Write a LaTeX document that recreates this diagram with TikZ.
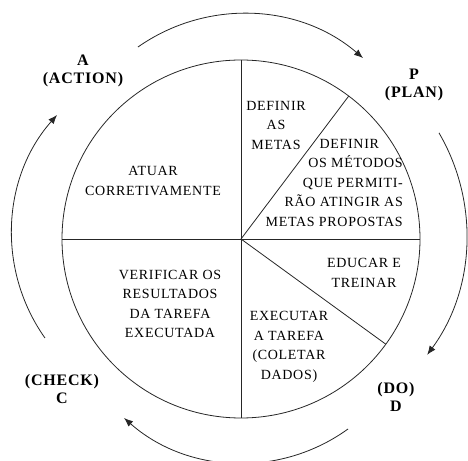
\documentclass[tikz,border=0pt]{standalone}
\usepackage{fontspec}
\setmainfont{Liberation Serif}[LetterSpace=5]
\usepackage{tikz}
\usetikzlibrary{calc,arrows.meta}
\tikzstyle{sectortext}=[font=\fontsize{14}{19.5}\selectfont,align=center,inner sep=0pt]
\tikzstyle{phasetext}=[font=\fontsize{16}{18}\selectfont\bfseries,align=center,inner sep=0pt]
\tikzstyle{wheel}=[draw=black!85,line width=0.8pt]
\tikzstyle{cyclearrow}=[draw=black!85,line width=0.8pt,-{Latex[length=9pt,width=7pt]}]
\newcommand\wheelradius{179}

\begin{document}
\begin{tikzpicture}[x=1pt,y=1pt]
	\useasboundingbox (0,0) rectangle (468,460);
	\clip (0,0) rectangle (468,460);
	% the wheel
	\coordinate (centre) at (241,221);
	\coordinate (top) at ($(centre)+(90:\wheelradius)$);
	\coordinate (bottom) at ($(centre)+(-90:\wheelradius)$);
	\coordinate (left) at ($(centre)+(180:\wheelradius)$);
	\coordinate (right) at ($(centre)+(0:\wheelradius)$);
	\coordinate (plan cut) at ($(centre)+(53:\wheelradius)$);
	\coordinate (do cut) at ($(centre)+(-36:\wheelradius)$);
	\draw [wheel] (centre) circle [radius=\wheelradius];
	\draw [wheel] (top) -- (bottom);
	\draw [wheel] (left) -- (right);
	\draw [wheel] (centre) -- (plan cut);
	\draw [wheel] (centre) -- (do cut);
	% sector texts
	\node [sectortext] (act) at (153,279) {ATUAR\\CORRETIVAMENTE};
	\node [sectortext] (goals) at (276,335) {DEFINIR\\AS\\METAS};
	\node [sectortext,align=right,anchor=east] (methods) at (403,277.5) {
		DEFINIR\hspace*{1.7em}\\OS MÉTODOS\\QUE PERMITI-\\RÃO ATINGIR AS\\METAS PROPOSTAS
	};
	\node [sectortext] (train) at (364,187) {EDUCAR E\\TREINAR};
	\node [sectortext] (verify) at (170,156) {VERIFICAR OS\\RESULTADOS\\DA TAREFA\\EXECUTADA};
	\node [sectortext] (execute) at (289,113) {EXECUTAR\\A TAREFA\\(COLETAR\\DADOS)};
	% phase labels
	\node [phasetext] (action) at (83,389) {A\\(ACTION)};
	\node [phasetext] (plan) at (414,375) {P\\(PLAN)};
	\node [phasetext] (do) at (396,63) {(DO)\\D};
	\node [phasetext] (check) at (62,71) {(CHECK)\\C};
	% cycle arrows
	\coordinate (top arc) at (243.4,262.8);
	\coordinate (right arc) at (264.4,225.1);
	\coordinate (bottom arc) at (242.9,176.4);
	\coordinate (left arc) at (191.7,225.9);
	\draw [cyclearrow] ([shift={(125.1:183.5)}]top arc) arc [start angle=125.1, end angle=49.3, radius=183.5];
	\draw [cyclearrow] ([shift={(30.3:202.2)}]right arc) arc [start angle=30.3, end angle=-36.4, radius=202.2];
	\draw [cyclearrow] ([shift={(-54.1:179.4)}]bottom arc) arc [start angle=-54.1, end angle=-131.5, radius=179.4];
	\draw [cyclearrow] ([shift={(215.3:179.8)}]left arc) arc [start angle=215.3, end angle=138.5, radius=179.8];
\end{tikzpicture}
\end{document}
